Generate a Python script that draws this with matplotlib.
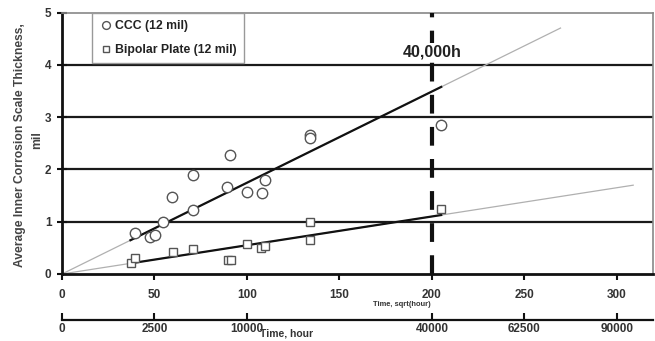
import numpy as np
import matplotlib
matplotlib.use("Agg")
import matplotlib.pyplot as plt

plt.rcParams['font.family'] = ['Liberation Sans', 'DejaVu Sans']
plt.rcParams['font.weight'] = 'bold'

# Data (x = sqrt(hour), y = mil)
ccc_x = [39.5, 47.6, 50.3, 54.8, 59.3, 70.6, 70.6, 89.4, 90.8, 99.8, 107.9, 109.7, 134.0, 134.0, 204.7]
ccc_y = [0.79, 0.71, 0.74, 1.00, 1.48, 1.89, 1.23, 1.66, 2.27, 1.56, 1.54, 1.80, 2.66, 2.60, 2.85]
bp_x = [37.1, 39.5, 59.8, 71.0, 89.5, 91.2, 99.8, 107.6, 110.0, 134.0, 134.0, 204.7]
bp_y = [0.21, 0.30, 0.43, 0.47, 0.26, 0.27, 0.58, 0.49, 0.53, 1.00, 0.65, 1.24]

ccc_slope = 0.01745
bp_slope = 0.0055
fit_x_start, fit_x_end = 37.0, 205.0
ccc_ext_end = 269.5
bp_ext_end = 308.8

top_ticks = [0, 50, 100, 150, 200, 250, 300]
hour_ticks = [0, 2500, 10000, 40000, 62500, 90000]
hour_labels = ['0', '2500', '10000', '40000', '62500', '90000']
y_ticks = [0, 1, 2, 3, 4, 5]
marker_x = 200
marker_label = '40,000h'

W, H = 655, 341
fig = plt.figure(figsize=(W/100, H/100), dpi=100)
left, right, bottom, top = 62, 653, 274, 12.5
ax = fig.add_axes([left/W, 1-bottom/H, (right-left)/W, (bottom-top)/H])
ax.set_xlim(0, 319.5)
ax.set_ylim(0, 5)

tick_color = '#333333'
for yv in [1, 2, 3, 4]:
    ax.axhline(yv, color='#1a1a1a', lw=1.6, zorder=1)

# extrapolation (gray thin) lines
ax.plot([0, ccc_ext_end], [0, ccc_slope*ccc_ext_end], color='#b0b0b0', lw=0.9, zorder=2)
ax.plot([0, bp_ext_end], [0, bp_slope*bp_ext_end], color='#b0b0b0', lw=0.9, zorder=2)
# fit lines
ax.plot([fit_x_start, fit_x_end], [ccc_slope*fit_x_start, ccc_slope*fit_x_end], color='#111111', lw=1.6, zorder=3)
ax.plot([fit_x_start, fit_x_end], [bp_slope*fit_x_start, bp_slope*fit_x_end], color='#111111', lw=1.6, zorder=3)

# vertical dashed line
ax.axvline(marker_x, color='#111111', lw=3.0, ls=(0, (4.5, 3.2)), zorder=4)
ax.text(marker_x, 4.24, marker_label, ha='center', va='center', fontsize=11.5,
        fontweight='bold', color='#222222', zorder=6,
        bbox=dict(facecolor='white', edgecolor='none', pad=1.5))

# markers
ax.plot(ccc_x, ccc_y, 'o', ms=7.5, mfc='white', mec='#555555', mew=1.0, ls='none', zorder=5,
        label='CCC (12 mil)')
ax.plot(bp_x, bp_y, 's', ms=6.2, mfc='white', mec='#555555', mew=1.0, ls='none', zorder=5,
        label='Bipolar Plate (12 mil)')

# spines
for s in ['top', 'right']:
    ax.spines[s].set_color('#888888')
    ax.spines[s].set_linewidth(1.2)
for s in ['left', 'bottom']:
    ax.spines[s].set_color('#111111')
    ax.spines[s].set_linewidth(2.0)

ax.set_xticks(top_ticks)
ax.set_xticklabels([str(t) for t in top_ticks])
ax.set_yticks(y_ticks)
ax.set_yticklabels([str(t) for t in y_ticks])
ax.tick_params(axis='x', direction='out', length=4.5, width=1.5, color='#111111',
               labelsize=8.5, labelcolor=tick_color, pad=6)
ax.tick_params(axis='y', direction='inout', length=7, width=1.5, color='#111111',
               labelsize=8.5, labelcolor=tick_color, pad=4)
for lab in ax.get_xticklabels() + ax.get_yticklabels():
    lab.set_fontweight('bold')

leg = ax.legend(loc='upper left', bbox_to_anchor=((91.5-left)/(right-left), 1.0),
                fontsize=8.8, frameon=True, fancybox=False, edgecolor='#999999',
                framealpha=1, handletextpad=0.1, handlelength=1.2, borderpad=0.6,
                labelspacing=1.0, borderaxespad=0.0, markerscale=0.75)
leg.get_frame().set_linewidth(1.0)
for t in leg.get_texts():
    t.set_fontweight('bold')
    t.set_color('#222222')

# secondary (hour) axis
ax2 = ax.twiny()
ax2.set_xlim(ax.get_xlim())
ax2.xaxis.set_ticks_position('bottom')
ax2.xaxis.set_label_position('bottom')
ax2.spines['bottom'].set_position(('outward', (320-274)*0.72))
for s in ['top', 'right', 'left']:
    ax2.spines[s].set_visible(False)
ax2.spines['bottom'].set_color('#111111')
ax2.spines['bottom'].set_linewidth(1.6)
ax2.set_xticks(np.sqrt(hour_ticks))
ax2.set_xticklabels(hour_labels)
ax2.tick_params(axis='x', direction='in', length=5, width=1.5, color='#111111',
                labelsize=8.5, labelcolor=tick_color, pad=2.5)
for lab in ax2.get_xticklabels():
    lab.set_fontweight('bold')

# axis titles
fig.text(402/W, 1-305/H, 'Time, sqrt(hour)', ha='center', va='center', fontsize=5.4,
         fontweight='bold', color='#333333')
fig.text(287/W, 1-334/H, 'Time, hour', ha='center', va='center', fontsize=7.5,
         fontweight='bold', color='#333333')
fig.text(20/W, 1-145/H, 'Average Inner Corrosion Scale Thickness,', rotation=90,
         ha='center', va='center', fontsize=8.7, fontweight='bold', color='#444444')
fig.text(37/W, 1-140/H, 'mil', rotation=90,
         ha='center', va='center', fontsize=8.7, fontweight='bold', color='#444444')

fig.savefig('out.png', dpi=100, facecolor='white')
